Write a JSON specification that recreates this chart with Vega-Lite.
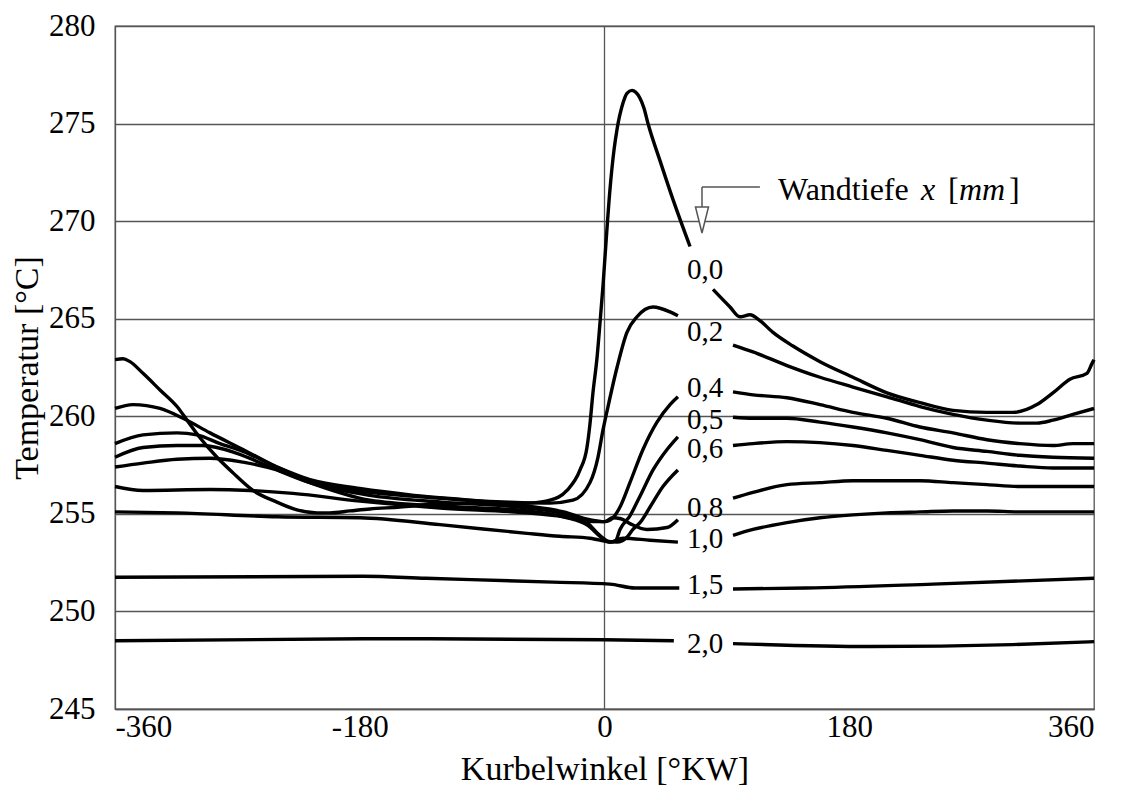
{
  "$schema": "https://vega.github.io/schema/vega-lite/v6.json",
  "autosize": "none",
  "width": 979,
  "height": 683,
  "padding": {"left": 115, "top": 26, "right": 39, "bottom": 81},
  "background": "white",
  "config": {
    "font": "Liberation Serif",
    "view": {"stroke": "#555", "strokeWidth": 1.3},
    "axis": {
      "labelFont": "Liberation Serif",
      "titleFont": "Liberation Serif",
      "labelFontSize": 31,
      "titleFontSize": 34,
      "labelColor": "black",
      "titleColor": "black",
      "titleFontWeight": "normal",
      "domainColor": "#555",
      "domainWidth": 1.3,
      "gridColor": "#555",
      "gridWidth": 1.3,
      "gridOpacity": 1,
      "ticks": false
    }
  },
  "datasets": {
    "curves": [
      {"d":"0,0","s":1,"w":-360,"T":262.9},{"d":"0,0","s":1,"w":-354,"T":262.95},{"d":"0,0","s":1,"w":-349,"T":262.8},
      {"d":"0,0","s":1,"w":-339.4,"T":262.2},{"d":"0,0","s":1,"w":-326.9,"T":261.35},{"d":"0,0","s":1,"w":-314.4,"T":260.5},
      {"d":"0,0","s":1,"w":-307,"T":259.8},{"d":"0,0","s":1,"w":-297.5,"T":258.9},{"d":"0,0","s":1,"w":-285,"T":257.9},
      {"d":"0,0","s":1,"w":-273.2,"T":257.1},{"d":"0,0","s":1,"w":-258.5,"T":256.2},{"d":"0,0","s":1,"w":-240.9,"T":255.6},
      {"d":"0,0","s":1,"w":-226.2,"T":255.2},{"d":"0,0","s":1,"w":-211.4,"T":255.05},{"d":"0,0","s":1,"w":-201.9,"T":255.05},
      {"d":"0,0","s":1,"w":-187.2,"T":255.15},{"d":"0,0","s":1,"w":-172.5,"T":255.25},{"d":"0,0","s":1,"w":-150.4,"T":255.35},
      {"d":"0,0","s":1,"w":-126.1,"T":255.5},{"d":"0,0","s":1,"w":-101.1,"T":255.55},{"d":"0,0","s":1,"w":-76.9,"T":255.5},
      {"d":"0,0","s":1,"w":-54.8,"T":255.55},{"d":"0,0","s":1,"w":-40.1,"T":255.7},{"d":"0,0","s":1,"w":-27.6,"T":256.2},
      {"d":"0,0","s":1,"w":-18,"T":257.25},{"d":"0,0","s":1,"w":-12.9,"T":258.4},{"d":"0,0","s":1,"w":-10.7,"T":259.6},
      {"d":"0,0","s":1,"w":-8.5,"T":261.2},{"d":"0,0","s":1,"w":-5.5,"T":263.0},{"d":"0,0","s":1,"w":-3.3,"T":264.8},
      {"d":"0,0","s":1,"w":-1.1,"T":266.7},{"d":"0,0","s":1,"w":1.1,"T":268.9},{"d":"0,0","s":1,"w":4,"T":271.6},
      {"d":"0,0","s":1,"w":7,"T":273.65},{"d":"0,0","s":1,"w":9.2,"T":274.7},{"d":"0,0","s":1,"w":13.6,"T":276.05},
      {"d":"0,0","s":1,"w":16.5,"T":276.55},{"d":"0,0","s":1,"w":20.2,"T":276.7},{"d":"0,0","s":1,"w":23,"T":276.6},
      {"d":"0,0","s":1,"w":26.1,"T":276.3},{"d":"0,0","s":1,"w":29,"T":275.8},{"d":"0,0","s":1,"w":32,"T":275.0},
      {"d":"0,0","s":1,"w":40.8,"T":273.1},{"d":"0,0","s":1,"w":50.4,"T":271.1},{"d":"0,0","s":1,"w":62.9,"T":268.7},
      {"d":"0,0","s":2,"w":79.8,"T":266.5},{"d":"0,0","s":2,"w":92.3,"T":265.6},{"d":"0,0","s":2,"w":99.6,"T":265.1},
      {"d":"0,0","s":2,"w":107,"T":265.2},{"d":"0,0","s":2,"w":114.3,"T":264.9},{"d":"0,0","s":2,"w":123.9,"T":264.3},
      {"d":"0,0","s":2,"w":138.6,"T":263.6},{"d":"0,0","s":2,"w":158.5,"T":262.8},{"d":"0,0","s":2,"w":182.7,"T":262.0},
      {"d":"0,0","s":2,"w":207.7,"T":261.2},{"d":"0,0","s":2,"w":232,"T":260.7},{"d":"0,0","s":2,"w":256.3,"T":260.3},
      {"d":"0,0","s":2,"w":281.3,"T":260.2},{"d":"0,0","s":2,"w":300.4,"T":260.2},{"d":"0,0","s":2,"w":318,"T":260.6},
      {"d":"0,0","s":2,"w":329.8,"T":261.2},{"d":"0,0","s":2,"w":342.3,"T":261.9},{"d":"0,0","s":2,"w":354.8,"T":262.2},
      {"d":"0,0","s":2,"w":358.5,"T":262.7},{"d":"0,0","s":2,"w":360,"T":262.9},

      {"d":"0,2","s":1,"w":-360,"T":260.4},{"d":"0,2","s":1,"w":-346.8,"T":260.6},{"d":"0,2","s":1,"w":-326.9,"T":260.4},
      {"d":"0,2","s":1,"w":-310,"T":259.9},{"d":"0,2","s":1,"w":-290.1,"T":259.15},{"d":"0,2","s":1,"w":-265.9,"T":258.3},
      {"d":"0,2","s":1,"w":-240.9,"T":257.4},{"d":"0,2","s":1,"w":-216.6,"T":256.7},{"d":"0,2","s":1,"w":-192.3,"T":256.3},
      {"d":"0,2","s":1,"w":-172.5,"T":256.1},{"d":"0,2","s":1,"w":-140,"T":255.9},{"d":"0,2","s":1,"w":-100,"T":255.7},
      {"d":"0,2","s":1,"w":-70,"T":255.6},{"d":"0,2","s":1,"w":-40.1,"T":255.55},{"d":"0,2","s":1,"w":-23.2,"T":255.7},
      {"d":"0,2","s":1,"w":-10.7,"T":256.6},{"d":"0,2","s":1,"w":-4.8,"T":257.9},{"d":"0,2","s":1,"w":-1.1,"T":259.3},
      {"d":"0,2","s":1,"w":2.6,"T":260.5},{"d":"0,2","s":1,"w":9.2,"T":262.5},{"d":"0,2","s":1,"w":16.5,"T":264.3},
      {"d":"0,2","s":1,"w":23.9,"T":265.1},{"d":"0,2","s":1,"w":35.7,"T":265.6},{"d":"0,2","s":1,"w":48.2,"T":265.35},
      {"d":"0,2","s":1,"w":54,"T":265.15},
      {"d":"0,2","s":2,"w":94.5,"T":263.65},{"d":"0,2","s":2,"w":109.2,"T":263.3},{"d":"0,2","s":2,"w":134.2,"T":262.6},
      {"d":"0,2","s":2,"w":158.5,"T":262.0},{"d":"0,2","s":2,"w":182.7,"T":261.5},{"d":"0,2","s":2,"w":207.7,"T":261.0},
      {"d":"0,2","s":2,"w":232,"T":260.5},{"d":"0,2","s":2,"w":256.3,"T":260.1},{"d":"0,2","s":2,"w":281.3,"T":259.8},
      {"d":"0,2","s":2,"w":305.5,"T":259.65},{"d":"0,2","s":2,"w":318,"T":259.65},{"d":"0,2","s":2,"w":329.8,"T":259.8},
      {"d":"0,2","s":2,"w":344.5,"T":260.1},{"d":"0,2","s":2,"w":360,"T":260.4},

      {"d":"0,4","s":1,"w":-360,"T":258.6},{"d":"0,4","s":1,"w":-339.4,"T":259.05},{"d":"0,4","s":1,"w":-314.4,"T":259.15},
      {"d":"0,4","s":1,"w":-299.7,"T":259.05},{"d":"0,4","s":1,"w":-282.8,"T":258.6},{"d":"0,4","s":1,"w":-265.9,"T":258.2},
      {"d":"0,4","s":1,"w":-240.9,"T":257.4},{"d":"0,4","s":1,"w":-216.6,"T":256.75},{"d":"0,4","s":1,"w":-180,"T":256.3},
      {"d":"0,4","s":1,"w":-140,"T":255.95},{"d":"0,4","s":1,"w":-100,"T":255.7},{"d":"0,4","s":1,"w":-57,"T":255.4},
      {"d":"0,4","s":1,"w":-30,"T":255.1},{"d":"0,4","s":1,"w":-10.7,"T":254.7},{"d":"0,4","s":1,"w":0.3,"T":254.6},
      {"d":"0,4","s":1,"w":6.2,"T":254.8},{"d":"0,4","s":1,"w":11.4,"T":255.35},{"d":"0,4","s":1,"w":18.7,"T":256.6},
      {"d":"0,4","s":1,"w":28.3,"T":258.3},{"d":"0,4","s":1,"w":38.6,"T":259.7},{"d":"0,4","s":1,"w":48.2,"T":260.6},
      {"d":"0,4","s":1,"w":54,"T":261.0},
      {"d":"0,4","s":2,"w":94.5,"T":261.25},{"d":"0,4","s":2,"w":109.2,"T":261.1},{"d":"0,4","s":2,"w":134.2,"T":260.95},
      {"d":"0,4","s":2,"w":158.5,"T":260.6},{"d":"0,4","s":2,"w":182.7,"T":260.2},{"d":"0,4","s":2,"w":207.7,"T":259.9},
      {"d":"0,4","s":2,"w":232,"T":259.45},{"d":"0,4","s":2,"w":256.3,"T":259.15},{"d":"0,4","s":2,"w":281.3,"T":258.8},
      {"d":"0,4","s":2,"w":305.5,"T":258.6},{"d":"0,4","s":2,"w":329.8,"T":258.5},{"d":"0,4","s":2,"w":344.5,"T":258.6},
      {"d":"0,4","s":2,"w":360,"T":258.6},

      {"d":"0,5","s":1,"w":-360,"T":257.9},{"d":"0,5","s":1,"w":-339.4,"T":258.4},{"d":"0,5","s":1,"w":-314.4,"T":258.5},
      {"d":"0,5","s":1,"w":-295.3,"T":258.5},{"d":"0,5","s":1,"w":-270.3,"T":258.1},{"d":"0,5","s":1,"w":-246,"T":257.4},
      {"d":"0,5","s":1,"w":-216.6,"T":256.6},{"d":"0,5","s":1,"w":-172.5,"T":255.95},{"d":"0,5","s":1,"w":-120,"T":255.6},
      {"d":"0,5","s":1,"w":-57,"T":255.3},{"d":"0,5","s":1,"w":-30,"T":255.0},{"d":"0,5","s":1,"w":-12,"T":254.5},
      {"d":"0,5","s":1,"w":-5,"T":254.0},{"d":"0,5","s":1,"w":0,"T":253.7},{"d":"0,5","s":1,"w":4,"T":253.55},
      {"d":"0,5","s":1,"w":8,"T":253.6},{"d":"0,5","s":1,"w":11.4,"T":254.2},{"d":"0,5","s":1,"w":18.7,"T":254.9},
      {"d":"0,5","s":1,"w":26.1,"T":255.9},{"d":"0,5","s":1,"w":35.7,"T":257.25},{"d":"0,5","s":1,"w":46,"T":258.3},
      {"d":"0,5","s":1,"w":54,"T":258.95},
      {"d":"0,5","s":2,"w":94.5,"T":259.95},{"d":"0,5","s":2,"w":109.2,"T":259.9},{"d":"0,5","s":2,"w":134.2,"T":259.9},
      {"d":"0,5","s":2,"w":158.5,"T":259.7},{"d":"0,5","s":2,"w":182.7,"T":259.45},{"d":"0,5","s":2,"w":207.7,"T":259.15},
      {"d":"0,5","s":2,"w":232,"T":258.8},{"d":"0,5","s":2,"w":256.3,"T":258.4},{"d":"0,5","s":2,"w":281.3,"T":258.2},
      {"d":"0,5","s":2,"w":305.5,"T":258.0},{"d":"0,5","s":2,"w":329.8,"T":257.9},{"d":"0,5","s":2,"w":360,"T":257.85},

      {"d":"0,6","s":1,"w":-360,"T":257.4},{"d":"0,6","s":1,"w":-339.4,"T":257.6},{"d":"0,6","s":1,"w":-314.4,"T":257.8},
      {"d":"0,6","s":1,"w":-290.1,"T":257.85},{"d":"0,6","s":1,"w":-265.9,"T":257.65},{"d":"0,6","s":1,"w":-240.9,"T":257.25},
      {"d":"0,6","s":1,"w":-216.6,"T":256.6},{"d":"0,6","s":1,"w":-172.5,"T":255.7},{"d":"0,6","s":1,"w":-120,"T":255.4},
      {"d":"0,6","s":1,"w":-57,"T":255.15},{"d":"0,6","s":1,"w":-30,"T":254.85},{"d":"0,6","s":1,"w":-12,"T":254.4},
      {"d":"0,6","s":1,"w":-5,"T":253.95},{"d":"0,6","s":1,"w":2,"T":253.6},{"d":"0,6","s":1,"w":9.2,"T":253.55},
      {"d":"0,6","s":1,"w":16.5,"T":253.8},{"d":"0,6","s":1,"w":20.9,"T":254.2},{"d":"0,6","s":1,"w":26.1,"T":254.55},
      {"d":"0,6","s":1,"w":33.5,"T":255.35},{"d":"0,6","s":1,"w":43,"T":256.4},{"d":"0,6","s":1,"w":54,"T":257.25},
      {"d":"0,6","s":2,"w":94.5,"T":258.5},{"d":"0,6","s":2,"w":109.2,"T":258.6},{"d":"0,6","s":2,"w":134.2,"T":258.7},
      {"d":"0,6","s":2,"w":158.5,"T":258.65},{"d":"0,6","s":2,"w":182.7,"T":258.5},{"d":"0,6","s":2,"w":207.7,"T":258.25},
      {"d":"0,6","s":2,"w":232,"T":258.0},{"d":"0,6","s":2,"w":256.3,"T":257.75},{"d":"0,6","s":2,"w":281.3,"T":257.6},
      {"d":"0,6","s":2,"w":305.5,"T":257.45},{"d":"0,6","s":2,"w":329.8,"T":257.35},{"d":"0,6","s":2,"w":360,"T":257.35},

      {"d":"0,8","s":1,"w":-360,"T":256.4},{"d":"0,8","s":1,"w":-339.4,"T":256.2},{"d":"0,8","s":1,"w":-290.1,"T":256.25},
      {"d":"0,8","s":1,"w":-260.7,"T":256.2},{"d":"0,8","s":1,"w":-229.1,"T":256.05},{"d":"0,8","s":1,"w":-179.8,"T":255.65},
      {"d":"0,8","s":1,"w":-121,"T":255.3},{"d":"0,8","s":1,"w":-57,"T":255.05},{"d":"0,8","s":1,"w":-30,"T":254.85},
      {"d":"0,8","s":1,"w":-8.5,"T":254.6},{"d":"0,8","s":1,"w":0.3,"T":254.6},{"d":"0,8","s":1,"w":6,"T":254.8},
      {"d":"0,8","s":1,"w":12,"T":254.75},{"d":"0,8","s":1,"w":18.7,"T":254.5},{"d":"0,8","s":1,"w":31.2,"T":254.2},
      {"d":"0,8","s":1,"w":46,"T":254.3},{"d":"0,8","s":1,"w":54,"T":254.7},
      {"d":"0,8","s":2,"w":94.5,"T":255.8},{"d":"0,8","s":2,"w":109.2,"T":256.1},{"d":"0,8","s":2,"w":134.2,"T":256.5},
      {"d":"0,8","s":2,"w":158.5,"T":256.6},{"d":"0,8","s":2,"w":182.7,"T":256.7},{"d":"0,8","s":2,"w":207.7,"T":256.7},
      {"d":"0,8","s":2,"w":232,"T":256.7},{"d":"0,8","s":2,"w":256.3,"T":256.6},{"d":"0,8","s":2,"w":281.3,"T":256.5},
      {"d":"0,8","s":2,"w":305.5,"T":256.4},{"d":"0,8","s":2,"w":329.8,"T":256.4},{"d":"0,8","s":2,"w":360,"T":256.4},

      {"d":"1,0","s":1,"w":-360,"T":255.1},{"d":"1,0","s":1,"w":-314.4,"T":255.05},{"d":"1,0","s":1,"w":-240.9,"T":254.85},
      {"d":"1,0","s":1,"w":-179.8,"T":254.8},{"d":"1,0","s":1,"w":-121,"T":254.45},{"d":"1,0","s":1,"w":-57,"T":254.0},
      {"d":"1,0","s":1,"w":-32.7,"T":253.85},{"d":"1,0","s":1,"w":-10.7,"T":253.75},{"d":"1,0","s":1,"w":0.3,"T":253.6},
      {"d":"1,0","s":1,"w":4,"T":253.55},{"d":"1,0","s":1,"w":13.6,"T":253.75},{"d":"1,0","s":1,"w":33.5,"T":253.65},
      {"d":"1,0","s":1,"w":54,"T":253.55},
      {"d":"1,0","s":2,"w":94.5,"T":253.9},{"d":"1,0","s":2,"w":109.2,"T":254.2},{"d":"1,0","s":2,"w":134.2,"T":254.55},
      {"d":"1,0","s":2,"w":158.5,"T":254.8},{"d":"1,0","s":2,"w":182.7,"T":254.95},{"d":"1,0","s":2,"w":207.7,"T":255.05},
      {"d":"1,0","s":2,"w":232,"T":255.1},{"d":"1,0","s":2,"w":256.3,"T":255.15},{"d":"1,0","s":2,"w":281.3,"T":255.15},
      {"d":"1,0","s":2,"w":305.5,"T":255.1},{"d":"1,0","s":2,"w":360,"T":255.1},

      {"d":"1,5","s":1,"w":-360,"T":251.75},{"d":"1,5","s":1,"w":-177.6,"T":251.8},{"d":"1,5","s":1,"w":-131.3,"T":251.7},
      {"d":"1,5","s":1,"w":-37.9,"T":251.5},{"d":"1,5","s":1,"w":4,"T":251.4},{"d":"1,5","s":1,"w":22.4,"T":251.2},
      {"d":"1,5","s":1,"w":55,"T":251.2},
      {"d":"1,5","s":2,"w":94.5,"T":251.15},{"d":"1,5","s":2,"w":148.2,"T":251.2},{"d":"1,5","s":2,"w":241.6,"T":251.4},
      {"d":"1,5","s":2,"w":360,"T":251.7},

      {"d":"2,0","s":1,"w":-360,"T":248.5},{"d":"2,0","s":1,"w":-177.6,"T":248.6},{"d":"2,0","s":1,"w":-0.4,"T":248.55},
      {"d":"2,0","s":1,"w":51,"T":248.5},
      {"d":"2,0","s":2,"w":94.5,"T":248.35},{"d":"2,0","s":2,"w":195.3,"T":248.2},{"d":"2,0","s":2,"w":300,"T":248.3},
      {"d":"2,0","s":2,"w":360,"T":248.45}
    ],
    "labels": [
      {"d":"0,0","T":267.5},{"d":"0,2","T":264.3},{"d":"0,4","T":261.45},
      {"d":"0,5","T":259.8},{"d":"0,6","T":258.3},{"d":"0,8","T":255.3},
      {"d":"1,0","T":253.7},{"d":"1,5","T":251.35},{"d":"2,0","T":248.35}
    ],
    "one": [{}]
  },
  "layer": [
    {
      "data": {"name": "one"},
      "mark": {"type": "rule", "color": "#555", "strokeWidth": 1.3},
      "encoding": {"x": {"datum": 0}}
    },
    {
      "data": {"name": "curves"},
      "mark": {"type": "line", "color": "black", "strokeWidth": 3.4, "interpolate": "monotone", "strokeCap": "butt", "strokeJoin": "round"},
      "encoding": {
        "x": {
          "field": "w", "type": "quantitative",
          "scale": {"domain": [-360, 360], "nice": false, "zero": false},
          "axis": {
            "values": [-360, -180, 0, 180, 360],
            "labelExpr": "'' + datum.value",
            "grid": false,
            "labelPadding": 3,
            "title": "Kurbelwinkel [°KW]",
            "titlePadding": 10
          }
        },
        "y": {
          "field": "T", "type": "quantitative",
          "scale": {"domain": [245, 280], "nice": false, "zero": false},
          "axis": {
            "values": [245, 250, 255, 260, 265, 270, 275, 280],
            "grid": true,
            "labelPadding": 20,
            "title": "Temperatur [°C]",
            "titlePadding": 4
          }
        },
        "detail": [{"field": "d"}, {"field": "s"}]
      }
    },
    {
      "data": {"name": "labels"},
      "mark": {"type": "text", "fontSize": 29, "color": "black", "align": "center", "baseline": "middle"},
      "encoding": {
        "x": {"datum": 74},
        "y": {"field": "T", "type": "quantitative"},
        "text": {"field": "d"}
      }
    },
    {
      "data": {"name": "one"},
      "mark": {"type": "rule", "color": "#555", "strokeWidth": 1.5},
      "encoding": {"x": {"datum": 71.7}, "x2": {"datum": 114.3}, "y": {"datum": 271.75}}
    },
    {
      "data": {"name": "one"},
      "mark": {"type": "rule", "color": "#555", "strokeWidth": 1.5},
      "encoding": {"x": {"datum": 71.7}, "y": {"datum": 271.75}, "y2": {"datum": 270.73}}
    },
    {
      "data": {"name": "one"},
      "mark": {"type": "point", "shape": "M-0.5,-1L0.5,-1L0,1Z", "filled": true, "fill": "white", "stroke": "#555", "strokeWidth": 1.5, "size": 676, "opacity": 1},
      "encoding": {"x": {"datum": 71.7}, "y": {"datum": 270.06}}
    },
    {
      "data": {"name": "one"},
      "mark": {"type": "text", "fontSize": 32, "color": "black", "align": "left", "baseline": "middle"},
      "encoding": {"x": {"datum": 127.6}, "y": {"datum": 271.6}, "text": {"value": "Wandtiefe"}}
    },
    {
      "data": {"name": "one"},
      "mark": {"type": "text", "fontSize": 32, "fontStyle": "italic", "color": "black", "align": "left", "baseline": "middle"},
      "encoding": {"x": {"datum": 232.7}, "y": {"datum": 271.6}, "text": {"value": "x"}}
    },
    {
      "data": {"name": "one"},
      "mark": {"type": "text", "fontSize": 32, "color": "black", "align": "left", "baseline": "middle"},
      "encoding": {"x": {"datum": 252.6}, "y": {"datum": 271.6}, "text": {"value": "["}}
    },
    {
      "data": {"name": "one"},
      "mark": {"type": "text", "fontSize": 32, "fontStyle": "italic", "color": "black", "align": "left", "baseline": "middle"},
      "encoding": {"x": {"datum": 260.7}, "y": {"datum": 271.6}, "text": {"value": "mm"}}
    },
    {
      "data": {"name": "one"},
      "mark": {"type": "text", "fontSize": 32, "color": "black", "align": "left", "baseline": "middle"},
      "encoding": {"x": {"datum": 297.5}, "y": {"datum": 271.6}, "text": {"value": "]"}}
    }
  ]
}
